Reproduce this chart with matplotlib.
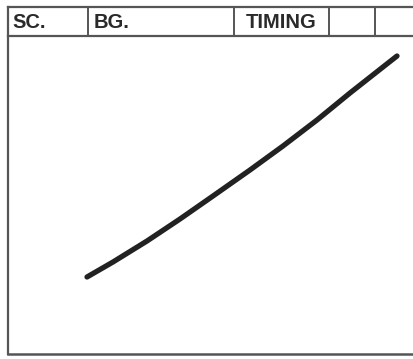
import matplotlib.pyplot as plt

# header cells of the sheet
header_labels = ["SC.", "BG.", "TIMING", "", ""]
header_edges = [8, 88, 234, 329, 375, 414]
label_pad = [4, 6, 12, 0, 0]

# the drawn path (pixel coords of the scanned sheet)
path_x = [87, 113, 147, 180, 213, 250, 283, 317, 350, 383, 397]
path_y = [277, 262, 241, 219, 196, 170, 146, 120, 93, 67, 56]

fig = plt.figure(figsize=(4.14, 3.59), dpi=100)
ax = fig.add_axes([0, 0, 1, 1])
ax.set_xlim(0, 414)
ax.set_ylim(359, 0)
ax.axis("off")

frame_c = "#555555"
top, head_bot, bottom = 7, 36, 354

# outer frame (right side runs off the scan)
ax.plot([header_edges[0], header_edges[0]], [top, bottom], color=frame_c, lw=1.6)
ax.plot([header_edges[0], 414], [top, top], color=frame_c, lw=1.6)
ax.plot([header_edges[0], 414], [head_bot, head_bot], color=frame_c, lw=1.6)
ax.plot([header_edges[0], 414], [bottom, bottom], color=frame_c, lw=1.8)

# header dividers + labels
for i, lab in enumerate(header_labels):
    if i > 0:
        ax.plot([header_edges[i], header_edges[i]], [top, head_bot],
                color=frame_c, lw=1.4)
    ax.text(header_edges[i] + label_pad[i], (top + head_bot) / 2 + 1, lab,
            family="Liberation Sans", fontweight="bold", fontsize=14.5,
            color="#2a2a2a", va="center", ha="left")

ax.plot(path_x, path_y, color="#222222", lw=3.8, solid_capstyle="round",
        solid_joinstyle="round")

fig.savefig("out.png", dpi=100)
